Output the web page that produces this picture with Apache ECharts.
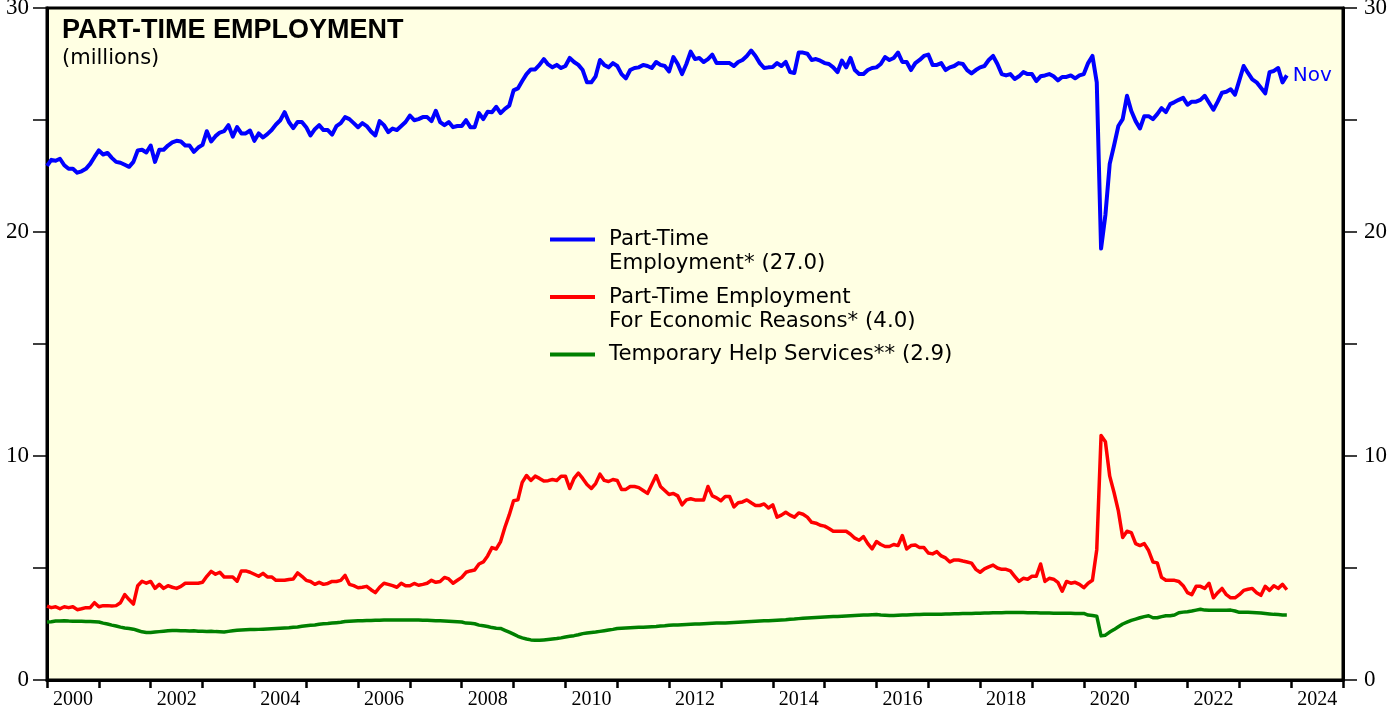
<!DOCTYPE html>
<html lang="en">
<head>
    <meta charset="UTF-8">
    <title>Part-Time Employment</title>
    <script src="https://cdn.jsdelivr.net/npm/echarts@6/dist/echarts.min.js"></script>
    <style>
        * {
            margin: 0;
            padding: 0
        }

        html, body {
            width: 100%;
            height: 100%;
            background: #fff;
        }

        #main {
            width: 1389px;
            height: 714px;
        }
    </style>
</head>
<body>
<div id="main"></div>
<script type="text/javascript">
    // monthly data, first point is Dec 1999, last is Nov 2023 (millions)
    var startYear = 1999, startMonth = 12;

    var partTime = [22.95,
        23.22, 23.18, 23.27, 22.98, 22.82, 22.82, 22.65, 22.71, 22.82, 23.04, 23.35, 23.64,
        23.46, 23.53, 23.31, 23.13, 23.09, 23.00, 22.91, 23.13, 23.64, 23.67, 23.55, 23.86,
        23.13, 23.67, 23.67, 23.86, 24.00, 24.07, 24.04, 23.86, 23.86, 23.58, 23.77, 23.89,
        24.50, 24.04, 24.28, 24.44, 24.50, 24.77, 24.26, 24.68, 24.40, 24.40, 24.53, 24.07,
        24.40, 24.22, 24.37, 24.55, 24.80, 24.99, 25.35, 24.91, 24.64, 24.91, 24.91, 24.68,
        24.31, 24.59, 24.77, 24.55, 24.55, 24.35, 24.73, 24.86, 25.13, 25.04, 24.86, 24.68,
        24.86, 24.73, 24.49, 24.31, 24.95, 24.77, 24.46, 24.62, 24.55, 24.73, 24.91, 25.20,
        24.99, 25.04, 25.13, 25.13, 24.95, 25.41, 24.91, 24.77, 24.91, 24.68, 24.73, 24.73,
        24.99, 24.68, 24.68, 25.31, 25.04, 25.37, 25.35, 25.59, 25.31, 25.50, 25.64, 26.32,
        26.41, 26.74, 27.05, 27.26, 27.26, 27.46, 27.72, 27.48, 27.35, 27.46, 27.32, 27.41,
        27.77, 27.59, 27.46, 27.23, 26.68, 26.68, 26.95, 27.68, 27.46, 27.35, 27.54, 27.41,
        27.05, 26.86, 27.23, 27.32, 27.35, 27.46, 27.41, 27.32, 27.59, 27.46, 27.41, 27.17,
        27.81, 27.50, 27.05, 27.50, 28.05, 27.72, 27.77, 27.59, 27.72, 27.92, 27.54, 27.54,
        27.55, 27.54, 27.41, 27.59, 27.68, 27.86, 28.10, 27.86, 27.54, 27.32, 27.35, 27.37,
        27.54, 27.41, 27.59, 27.14, 27.10, 28.01, 28.01, 27.96, 27.68, 27.72, 27.65, 27.54,
        27.50, 27.35, 27.14, 27.65, 27.35, 27.77, 27.23, 27.05, 27.05, 27.23, 27.32, 27.35,
        27.50, 27.81, 27.68, 27.77, 28.01, 27.59, 27.59, 27.23, 27.54, 27.68, 27.86, 27.92,
        27.46, 27.46, 27.54, 27.23, 27.35, 27.41, 27.54, 27.50, 27.23, 27.08, 27.23, 27.35,
        27.41, 27.68, 27.86, 27.50, 27.05, 26.99, 27.05, 26.83, 26.95, 27.14, 27.05, 27.05,
        26.74, 26.95, 26.99, 27.05, 26.95, 26.77, 26.92, 26.92, 26.99, 26.86, 26.99, 27.05,
        27.54, 27.86, 26.68, 19.26, 20.76, 23.04, 23.86, 24.73, 25.04, 26.08, 25.40, 24.95,
        24.62, 25.17, 25.17, 25.04, 25.26, 25.53, 25.35, 25.71, 25.80, 25.90, 25.99, 25.68,
        25.82, 25.82, 25.90, 26.08, 25.77, 25.46, 25.82, 26.22, 26.26, 26.37, 26.13, 26.77,
        27.41, 27.10, 26.81, 26.68, 26.44, 26.19, 27.14, 27.19, 27.32, 26.68, 26.99];

    var economicReasons = [3.30,
        3.23, 3.27, 3.18, 3.27, 3.23, 3.27, 3.14, 3.18, 3.23, 3.23, 3.45, 3.27,
        3.32, 3.32, 3.30, 3.32, 3.45, 3.81, 3.59, 3.39, 4.21, 4.41, 4.32, 4.40,
        4.09, 4.27, 4.09, 4.21, 4.14, 4.09, 4.18, 4.32, 4.32, 4.32, 4.32, 4.36,
        4.63, 4.85, 4.72, 4.81, 4.60, 4.60, 4.60, 4.41, 4.87, 4.87, 4.81, 4.72,
        4.63, 4.76, 4.60, 4.60, 4.45, 4.45, 4.45, 4.49, 4.51, 4.78, 4.63, 4.45,
        4.40, 4.27, 4.36, 4.27, 4.31, 4.40, 4.40, 4.45, 4.67, 4.27, 4.21, 4.12,
        4.14, 4.18, 4.03, 3.90, 4.14, 4.32, 4.27, 4.21, 4.14, 4.32, 4.21, 4.21,
        4.31, 4.23, 4.27, 4.32, 4.45, 4.36, 4.40, 4.58, 4.51, 4.32, 4.45, 4.58,
        4.81, 4.87, 4.91, 5.18, 5.27, 5.54, 5.91, 5.85, 6.18, 6.82, 7.37, 8.00,
        8.04, 8.82, 9.13, 8.91, 9.10, 9.00, 8.88, 8.90, 8.95, 8.91, 9.10, 9.10,
        8.55, 9.00, 9.24, 9.00, 8.73, 8.55, 8.77, 9.19, 8.91, 8.86, 8.95, 8.91,
        8.51, 8.51, 8.64, 8.64, 8.59, 8.46, 8.33, 8.73, 9.13, 8.64, 8.46, 8.28,
        8.33, 8.22, 7.82, 8.04, 8.09, 8.04, 8.04, 8.04, 8.64, 8.22, 8.13, 8.00,
        8.19, 8.19, 7.73, 7.91, 7.95, 8.04, 7.91, 7.79, 7.79, 7.86, 7.68, 7.82,
        7.27, 7.36, 7.49, 7.36, 7.27, 7.46, 7.40, 7.27, 7.04, 7.00, 6.91, 6.87,
        6.76, 6.64, 6.64, 6.64, 6.64, 6.51, 6.33, 6.24, 6.40, 6.09, 5.85, 6.18,
        6.05, 5.96, 5.96, 6.05, 6.00, 6.45, 5.85, 6.00, 6.03, 5.91, 5.91, 5.67,
        5.63, 5.73, 5.54, 5.45, 5.27, 5.36, 5.36, 5.31, 5.27, 5.22, 4.94, 4.81,
        4.96, 5.05, 5.13, 5.00, 4.94, 4.94, 4.87, 4.63, 4.40, 4.54, 4.50, 4.63,
        4.63, 5.18, 4.40, 4.54, 4.50, 4.36, 3.96, 4.40, 4.32, 4.36, 4.27, 4.12,
        4.32, 4.45, 5.82, 10.92, 10.64, 9.10, 8.37, 7.55, 6.36, 6.64, 6.58, 6.09,
        6.00, 6.09, 5.78, 5.27, 5.23, 4.58, 4.45, 4.45, 4.45, 4.40, 4.21, 3.90,
        3.81, 4.18, 4.18, 4.09, 4.32, 3.67, 3.90, 4.09, 3.81, 3.67, 3.67, 3.81,
        4.00, 4.05, 4.09, 3.90, 3.78, 4.18, 4.00, 4.21, 4.09, 4.27, 4.03];

    var tempHelp = [2.59,
        2.60, 2.63, 2.63, 2.65, 2.63, 2.62, 2.62, 2.62, 2.61, 2.61, 2.60, 2.59,
        2.54, 2.50, 2.45, 2.41, 2.36, 2.32, 2.30, 2.27, 2.21, 2.15, 2.12, 2.12,
        2.14, 2.16, 2.18, 2.20, 2.21, 2.21, 2.20, 2.20, 2.19, 2.20, 2.18, 2.18,
        2.17, 2.18, 2.16, 2.15, 2.14, 2.17, 2.20, 2.22, 2.23, 2.24, 2.25, 2.25,
        2.26, 2.27, 2.28, 2.29, 2.30, 2.31, 2.32, 2.33, 2.35, 2.37, 2.40, 2.42,
        2.44, 2.46, 2.49, 2.51, 2.52, 2.54, 2.56, 2.58, 2.61, 2.62, 2.63, 2.64,
        2.65, 2.66, 2.66, 2.67, 2.67, 2.68, 2.68, 2.68, 2.68, 2.68, 2.68, 2.68,
        2.68, 2.68, 2.67, 2.67, 2.66, 2.65, 2.64, 2.63, 2.62, 2.61, 2.60, 2.59,
        2.54, 2.53, 2.51, 2.45, 2.42, 2.39, 2.34, 2.31, 2.30, 2.22, 2.14, 2.05,
        1.95, 1.88, 1.83, 1.79, 1.77, 1.77, 1.79, 1.81, 1.83, 1.85, 1.88, 1.92,
        1.95, 1.98, 2.02, 2.07, 2.10, 2.12, 2.14, 2.17, 2.20, 2.23, 2.26, 2.30,
        2.31, 2.32, 2.33, 2.34, 2.35, 2.36, 2.37, 2.38, 2.39, 2.41, 2.42, 2.44,
        2.45, 2.46, 2.47, 2.48, 2.49, 2.50, 2.50, 2.51, 2.52, 2.53, 2.54, 2.54,
        2.55, 2.56, 2.57, 2.58, 2.59, 2.60, 2.61, 2.62, 2.63, 2.64, 2.65, 2.66,
        2.67, 2.68, 2.69, 2.71, 2.72, 2.74, 2.76, 2.77, 2.78, 2.79, 2.80, 2.81,
        2.82, 2.83, 2.84, 2.85, 2.86, 2.87, 2.88, 2.89, 2.90, 2.90, 2.91, 2.92,
        2.90, 2.89, 2.88, 2.88, 2.89, 2.90, 2.90, 2.91, 2.92, 2.92, 2.93, 2.93,
        2.93, 2.94, 2.94, 2.95, 2.95, 2.96, 2.96, 2.97, 2.97, 2.97, 2.98, 2.98,
        2.99, 2.99, 3.00, 3.00, 3.00, 3.01, 3.01, 3.01, 3.01, 3.01, 3.00, 3.00,
        3.00, 2.99, 2.99, 2.99, 2.98, 2.98, 2.98, 2.98, 2.98, 2.97, 2.97, 2.97,
        2.90, 2.88, 2.85, 1.97, 2.00, 2.14, 2.25, 2.38, 2.50, 2.58, 2.66, 2.72,
        2.78, 2.83, 2.87, 2.78, 2.78, 2.83, 2.87, 2.87, 2.90, 3.00, 3.03, 3.05,
        3.08, 3.12, 3.16, 3.12, 3.11, 3.11, 3.11, 3.11, 3.11, 3.12, 3.08, 3.02,
        3.02, 3.02, 3.01, 3.00, 2.99, 2.97, 2.95, 2.93, 2.92, 2.90, 2.90];

    var seriesNames = [
        'Part-Time\nEmployment* (27.0)',
        'Part-Time Employment\nFor Economic Reasons* (4.0)',
        'Temporary Help Services** (2.9)'
    ];
    var seriesColors = ['#0000ff', '#ff0000', '#008000'];
    var lastLabel = 'Nov';

    // month i -> decimal year, points sit at the end of their month
    function toPairs(values) {
        return values.map(function (v, i) {
            return [startYear + (startMonth + i) / 12, v];
        });
    }

    var sansFont = '"DejaVu Sans", sans-serif';
    var serifFont = '"Liberation Serif", "DejaVu Serif", serif';

    var chart = echarts.init(document.getElementById('main'));
    chart.setOption({
        animation: false,
        backgroundColor: '#ffffff',
        title: {
            text: 'PART-TIME EMPLOYMENT',
            subtext: '(millions)',
            left: 62,
            top: 17,
            padding: 0,
            itemGap: 4,
            textStyle: {
                fontFamily: '"Liberation Sans", Arial, sans-serif',
                fontSize: 27,
                fontWeight: 'bold',
                color: '#000'
            },
            subtextStyle: {
                fontFamily: sansFont,
                fontSize: 21,
                color: '#000'
            }
        },
        legend: {
            orient: 'vertical',
            left: 550,
            top: 203.5,
            padding: 0,
            itemGap: -14.5,
            icon: 'rect',
            itemWidth: 45,
            itemHeight: 4,
            selectedMode: false,
            // an empty first line keeps the line icon level with the first text line
            formatter: function (name) {
                return name.indexOf('\n') >= 0 ? '\n' + name : name;
            },
            textStyle: {
                fontFamily: sansFont,
                fontSize: 21.3,
                lineHeight: 24,
                color: '#000'
            },
            data: [
                {name: seriesNames[0], textStyle: {padding: [0, 0, 0, 9]}},
                {name: seriesNames[1], textStyle: {padding: [0, 0, 0, 9]}},
                {name: seriesNames[2], textStyle: {padding: [24, 0, 24, 9]}}
            ]
        },
        grid: {
            left: 47,
            right: 46,
            top: 8,
            bottom: 34,
            show: true,
            backgroundColor: '#ffffe3',
            borderColor: '#000',
            borderWidth: 3,
            outerBoundsMode: 'none'
        },
        xAxis: {
            type: 'value',
            min: 2000,
            max: 2025,
            interval: 1,
            axisLine: {lineStyle: {color: '#000', width: 3}},
            axisTick: {length: 8, lineStyle: {color: '#000', width: 2.5}},
            splitLine: {show: false},
            axisLabel: {
                // labels sit mid-year, between the year ticks
                formatter: function (v) {
                    return (v % 2 === 0 && v < 2025) ? String(v) : '';
                },
                align: 'center',
                padding: [0, 0, 0, 52],
                margin: 10,
                color: '#000',
                fontFamily: serifFont,
                fontSize: 20,
                showMinLabel: true,
                showMaxLabel: true
            }
        },
        yAxis: [
            {
                type: 'value',
                position: 'left',
                min: 0,
                max: 30,
                interval: 5,
                axisLine: {show: true, lineStyle: {color: '#000', width: 3}},
                axisTick: {show: true, length: 14, lineStyle: {color: '#000', width: 1.5}},
                splitLine: {show: false},
                axisLabel: {
                    formatter: function (v) {
                        return v % 10 === 0 ? String(v) : '';
                    },
                    margin: 18,
                    color: '#000',
                    fontFamily: serifFont,
                    fontSize: 23
                }
            },
            {
                type: 'value',
                position: 'right',
                min: 0,
                max: 30,
                interval: 5,
                axisLine: {show: true, lineStyle: {color: '#000', width: 3}},
                axisTick: {show: true, length: 14, lineStyle: {color: '#000', width: 1.5}},
                splitLine: {show: false},
                axisLabel: {
                    formatter: function (v) {
                        return v % 10 === 0 ? String(v) : '';
                    },
                    margin: 21,
                    color: '#000',
                    fontFamily: serifFont,
                    fontSize: 23
                }
            }
        ],
        series: [
            {
                name: seriesNames[0],
                type: 'line',
                data: toPairs(partTime),
                showSymbol: false,
                color: seriesColors[0],
                lineStyle: {width: 4, join: 'round'},
                z: 4,
                endLabel: {
                    show: true,
                    formatter: lastLabel,
                    color: seriesColors[0],
                    fontFamily: sansFont,
                    fontSize: 20,
                    distance: 6
                }
            },
            {
                name: seriesNames[1],
                type: 'line',
                data: toPairs(economicReasons),
                showSymbol: false,
                color: seriesColors[1],
                lineStyle: {width: 3.5, join: 'round'},
                z: 3
            },
            {
                name: seriesNames[2],
                type: 'line',
                data: toPairs(tempHelp),
                showSymbol: false,
                color: seriesColors[2],
                lineStyle: {width: 3.5, join: 'round'},
                z: 2
            }
        ]
    });
</script>

</body>
</html>
